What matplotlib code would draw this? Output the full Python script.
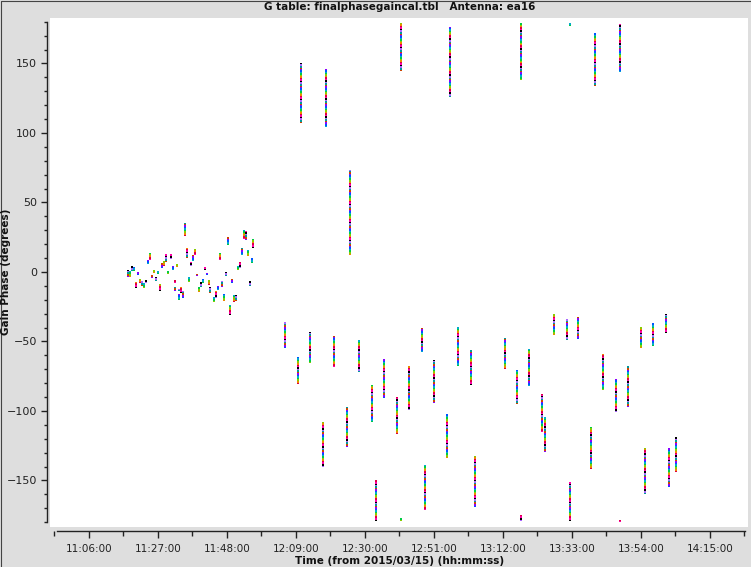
import matplotlib
matplotlib.use("Agg")
import matplotlib.pyplot as plt
import matplotlib.dates as mdates
from matplotlib.ticker import FixedLocator, MultipleLocator
from matplotlib.lines import Line2D

plt.rcParams["lines.scale_dashes"] = False

# one vertical strip of solutions per time stamp (phase range in degrees)
times = [
    "11:17:52", "11:18:29", "11:19:05", "11:19:42", "11:20:18", "11:20:55",
    "11:21:31", "11:22:08", "11:22:44", "11:23:21", "11:23:57", "11:24:34",
    "11:25:10", "11:25:47", "11:26:23", "11:27:00", "11:27:37", "11:28:13",
    "11:28:50", "11:29:26", "11:30:03", "11:30:57", "11:31:34", "11:32:10",
    "11:32:10", "11:32:47", "11:33:23", "11:33:23", "11:34:00", "11:34:37",
    "11:35:13", "11:35:50", "11:36:26", "11:37:03", "11:37:39", "11:38:16",
    "11:38:52", "11:39:29", "11:40:05", "11:40:42", "11:41:18", "11:41:55",
    "11:42:31", "11:42:50", "11:44:03", "11:44:39", "11:45:16", "11:45:52",
    "11:46:29", "11:47:05", "11:47:42", "11:48:18", "11:48:55", "11:49:31",
    "11:50:08", "11:50:44", "11:51:21", "11:51:57", "11:52:34", "11:53:10",
    "11:53:47", "11:54:23", "11:55:00", "11:55:37", "11:55:55",
    "12:05:39", "12:09:37", "12:10:31", "12:13:16", "12:17:13", "12:18:08",
    "12:20:34", "12:24:31", "12:25:26", "12:28:10", "12:32:08", "12:33:21",
    "12:35:47", "12:39:44", "12:40:58", "12:40:58", "12:43:23", "12:47:21",
    "12:48:16", "12:51:00", "12:54:58", "12:55:52", "12:58:18", "13:02:16",
    "13:03:29", "13:12:37", "13:16:16", "13:17:29", "13:17:29", "13:19:55",
    "13:23:52", "13:24:47", "13:27:31", "13:31:29", "13:32:23", "13:32:23",
    "13:34:50", "13:38:47", "13:40:00", "13:42:26", "13:46:23", "13:47:37",
    "13:47:37", "13:50:02", "13:54:00", "13:55:13", "13:57:39", "14:01:37",
    "14:02:31", "14:04:39",
]
phase_top = [
    1.4, 0.7, 4.3, 3.6, -7.2, 0.0, -5.0, -6.5, -7.9, -5.8, 8.6, 13.7,
    -2.2, 1.4, -3.6, 0.7, -8.6, 6.5, 7.9, 12.9, 0.7, 12.9, 4.3, -5.8,
    -10.8, 5.8, -12.2, -15.8, -10.8, -13.7, 35.3, 17.3, -3.6, 7.2, 12.2, 16.5,
    -1.4, -10.8, -7.2, -5.0, 3.6, -0.7, -5.8, -10.8, -18.0, -13.7, -10.1, 13.7,
    -6.5, -15.8, 0.0, 25.2, -23.7, -5.0, -16.5, -16.5, 4.3, 7.2, 17.3, 30.2,
    29.5, 15.8, -6.5, 10.1, 23.7,
    -36.0, -61.2, 150.4, -43.2, -107.9, 146.0, -46.0, -97.1, 73.4, -48.9,
    -81.3, -149.6, -62.6, -89.9, 179.1, -177.0, -67.6, -40.3, -138.8, -63.3,
    -102.2, 176.3, -39.6, -56.1, -132.4, -47.5, -70.5, 179.1, -174.8, -55.4,
    -87.8, -104.3, -30.2, -33.8, 179.3, -151.1, -32.4, -111.5, 171.9, -59.0,
    -77.0, 178.4, -178.5, -67.6, -39.6, -126.6, -36.7, -30.2, -126.6, -118.7,
]
phase_bottom = [
    -3.6, -3.6, 0.7, 0.7, -11.5, -2.2, -7.9, -10.1, -11.5, -7.9, 5.8, 8.6,
    -4.3, -0.7, -6.5, -1.4, -13.7, 2.9, 4.3, 7.2, -1.4, 9.4, 1.4, -7.9,
    -13.7, 3.6, -13.7, -20.1, -15.1, -18.7, 25.9, 10.1, -7.2, 4.3, 7.9, 12.2,
    -2.9, -14.4, -10.8, -7.9, 1.4, -2.2, -9.4, -15.1, -21.6, -18.7, -12.9, 8.6,
    -10.8, -20.9, -2.9, 19.4, -30.9, -7.9, -21.6, -20.9, 1.4, 2.9, 12.2, 23.7,
    23.0, 11.5, -10.1, 6.5, 17.3,
    -54.7, -80.6, 107.2, -65.5, -140.3, 104.3, -68.3, -125.9, 12.2, -71.9,
    -107.9, -179.5, -90.6, -116.5, 144.6, -179.5, -99.3, -57.6, -171.2, -94.2,
    -133.8, 125.9, -67.6, -81.3, -169.1, -69.8, -95.0, 138.1, -179.5, -82.0,
    -115.1, -129.5, -45.3, -48.9, 177.0, -179.5, -48.2, -141.7, 133.8, -84.9,
    -100.7, 143.9, -179.8, -97.1, -54.7, -159.7, -53.2, -43.9, -154.7, -143.9,
]

palette = ["#8800ff", "#0055ff", "#00aacc", "#00cc44", "#88cc00", "#ee8800",
           "#dd0044", "#ff00aa", "#000000", "#aa66ff", "#009999", "#cc4400"]

day = "2015-03-15 "
t = mdates.datestr2num([day + s for s in times])

fig = plt.figure(figsize=(7.51, 5.67), dpi=100, facecolor="#dedede")
ax = fig.add_axes([50 / 751, 40 / 567, 698 / 751, 509 / 567])
ax.set_facecolor("white")

n = len(palette)
on = 1.1
for j, (x, hi, lo) in enumerate(zip(t, phase_top, phase_bottom)):
    for i in range(n):
        c = palette[(i + 5 * j) % n]
        ax.vlines(x, lo, hi, colors=c, linewidth=1.1, antialiased=False,
                  linestyles=[(i * on, (on, (n - 1) * on))])

ax.set_xlim(mdates.datestr2num(day + "10:54:08"), mdates.datestr2num(day + "14:26:34"))
ax.set_ylim(-183.5, 182.7)

for s in ["top", "right"]:
    ax.spines[s].set_visible(False)
ax.spines["left"].set_position(("outward", 2))
ax.spines["left"].set_bounds(-180, 180)
ax.spines["bottom"].set_position(("outward", 3))
ax.spines["bottom"].set_bounds(mdates.datestr2num(day + "10:56:16"),
                               mdates.datestr2num(day + "14:25:39"))
for s in ["left", "bottom"]:
    ax.spines[s].set_color("#222222")
    ax.spines[s].set_linewidth(1)

major = [mdates.datestr2num(day + "11:06:00") + k * 21 / 1440 for k in range(10)]
minor = [m + 10.5 / 1440 for m in major[:-1]] + [major[0] - 10.5 / 1440, major[-1] + 10.5 / 1440]
ax.xaxis.set_major_locator(FixedLocator(major))
ax.xaxis.set_minor_locator(FixedLocator(minor))
ax.xaxis.set_major_formatter(mdates.DateFormatter("%H:%M:%S"))
ax.yaxis.set_major_locator(MultipleLocator(50))
ax.yaxis.set_minor_locator(MultipleLocator(10))

ax.tick_params(axis="x", which="major", length=5, width=1, pad=4.5,
               labelsize=7.5, colors="#222222")
ax.tick_params(axis="x", which="minor", length=3.3, width=1, colors="#222222")
ax.tick_params(axis="y", which="major", length=4.5, width=1, pad=3,
               labelsize=8, colors="#222222")
ax.tick_params(axis="y", which="minor", length=2.3, width=1, colors="#222222")

fig.text(400 / 751, 1 - 7 / 567, "G table: finalphasegaincal.tbl   Antenna: ea16",
         ha="center", va="center", fontsize=7.5, weight="bold", color="#111111")
fig.text(400 / 751, 1 - 561 / 567, "Time (from 2015/03/15) (hh:mm:ss)",
         ha="center", va="center", fontsize=7.5, weight="bold", color="#111111")
fig.text(6 / 751, 1 - 272 / 567, "Gain Phase (degrees)", rotation=90,
         ha="center", va="center", fontsize=7.5, weight="bold", color="#111111")

# window edge on the left and top
fig.add_artist(Line2D([0.0007, 0.0007, 1], [0, 0.9991, 0.9991],
                      transform=fig.transFigure, color="#444444", linewidth=0.8))

fig.savefig("out.png", dpi=100, facecolor=fig.get_facecolor())
